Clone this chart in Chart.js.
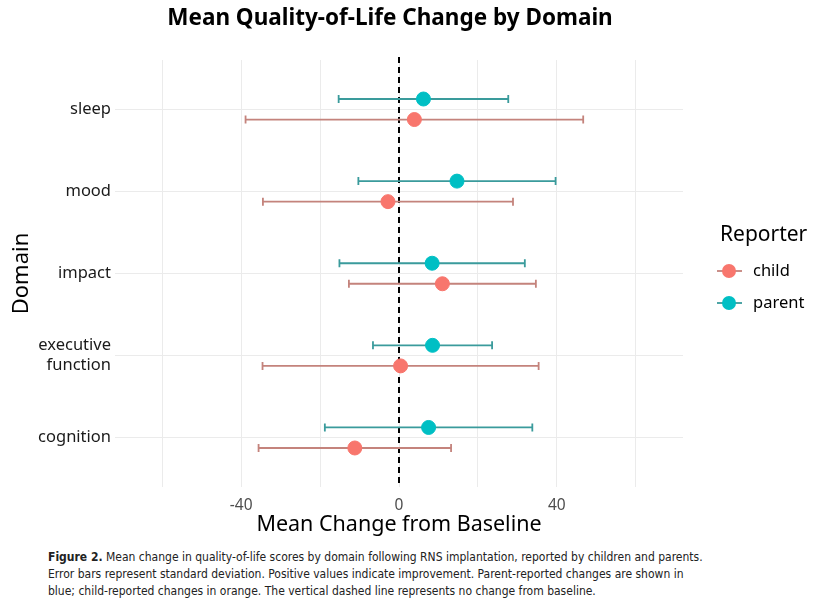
<!DOCTYPE html>
<html>
<head>
<meta charset="utf-8">
<script src="https://cdn.jsdelivr.net/npm/chart.js@4"></script>
<style>
  body { margin: 0; background: #fff; }
  #wrap { width: 822px; height: 540px; position: relative; }
  .caption {
    margin: 9px 0 0 48px;
    font-family: "Liberation Sans Narrow", "DejaVu Sans Condensed", "Roboto", sans-serif;
    font-size: 12px;
    line-height: 17px;
    color: #222;
  }
</style>
</head>
<body>
<div id="wrap"><canvas id="myChart" width="822" height="540"></canvas></div>
<div class="caption">
  <b>Figure 2.</b> Mean change in quality-of-life scores by domain following RNS implantation, reported by children and parents.<br>
  Error bars represent standard deviation. Positive values indicate improvement. Parent-reported changes are shown in<br>
  blue; child-reported changes in orange. The vertical dashed line represents no change from baseline.
</div>
<script>
// data (top to bottom)
var domains = ['sleep', 'mood', 'impact', 'executive function', 'cognition'];
var domainLabels = [['sleep'], ['mood'], ['impact'], ['executive', 'function'], ['cognition']];
var parentMean = [6.2, 14.7, 8.4, 8.5, 7.5];
var parentSd = [21.5, 25.0, 23.5, 15.1, 26.3];
var childMean = [3.9, -2.8, 11.0, 0.4, -11.2];
var childSd = [42.8, 31.7, 23.7, 35.0, 24.4];
var xGrid = [-60, -40, -20, 0, 20, 40, 60];
var xLabels = [-40, 0, 40];
var baseline = 0;
var dodge = 0.125;

var fontFam = '"Noto Sans", sans-serif';

// ggplot style: category 1 at bottom, so sleep gets the highest value
function catPos(i) {
    return domains.length - i;
}

function makePoints(means, sds, offset) {
    var pts = [];
    means.forEach((m, i) => {
        pts.push({ x: m, y: catPos(i) + offset, sd: sds[i] });
    });
    return pts;
}

// error bars drawn through the scales
const errorBars = {
    id: 'errorBars',
    beforeDatasetsDraw(chart) {
        const ctx = chart.ctx;
        const xs = chart.scales.x, ys = chart.scales.y;
        chart.data.datasets.forEach((ds) => {
            ctx.save();
            ctx.strokeStyle = ds.barColor;
            ctx.lineWidth = 1.8;
            ds.data.forEach((p) => {
                let x1 = xs.getPixelForValue(p.x - p.sd);
                let x2 = xs.getPixelForValue(p.x + p.sd);
                let y = ys.getPixelForValue(p.y);
                ctx.beginPath();
                ctx.moveTo(x1, y); ctx.lineTo(x2, y);
                ctx.moveTo(x1, y - 4); ctx.lineTo(x1, y + 4);
                ctx.moveTo(x2, y - 4); ctx.lineTo(x2, y + 4);
                ctx.stroke();
            });
            ctx.restore();
        });
    }
};

// dashed reference line at zero, title and legend
const decorations = {
    id: 'decorations',
    beforeDatasetsDraw(chart) {
        const ctx = chart.ctx;
        const xs = chart.scales.x;
        const area = chart.chartArea;
        let x0 = xs.getPixelForValue(baseline);
        ctx.save();
        ctx.strokeStyle = '#000';
        ctx.lineWidth = 2;
        ctx.setLineDash([6, 4]);
        ctx.beginPath();
        ctx.moveTo(x0, area.top - 3);
        ctx.lineTo(x0, area.bottom);
        ctx.stroke();
        ctx.restore();
    },
    afterDraw(chart) {
        const ctx = chart.ctx;
        ctx.save();
        ctx.fillStyle = '#000';
        ctx.font = 'bold 22.5px ' + fontFam;
        ctx.textAlign = 'center';
        ctx.textBaseline = 'middle';
        ctx.fillText('Mean Quality-of-Life Change by Domain', 390, 19);

        // legend
        ctx.textAlign = 'left';
        ctx.font = '21px ' + fontFam;
        ctx.fillText('Reporter', 720, 235);
        ctx.font = '16.5px ' + fontFam;
        let order = [1, 0];
        order.forEach((di, k) => {
            let ds = chart.data.datasets[di];
            let y = 271 + k * 32;
            ctx.strokeStyle = ds.barColor;
            ctx.lineWidth = 1.8;
            ctx.beginPath();
            ctx.moveTo(717, y); ctx.lineTo(742, y);
            ctx.stroke();
            ctx.fillStyle = ds.backgroundColor;
            ctx.beginPath();
            ctx.arc(729, y, 7, 0, Math.PI * 2);
            ctx.fill();
            ctx.fillStyle = '#000';
            ctx.fillText(ds.label, 753, y);
        });
        ctx.restore();
    }
};

const data = {
    datasets: [{
        label: 'parent',
        data: makePoints(parentMean, parentSd, dodge),
        backgroundColor: '#00BFC4',
        borderColor: '#00BFC4',
        barColor: '#3a9b9c',
        pointRadius: 7,
        pointHoverRadius: 7
    }, {
        label: 'child',
        data: makePoints(childMean, childSd, -dodge),
        backgroundColor: '#F8766D',
        borderColor: '#F8766D',
        barColor: '#c4837c',
        pointRadius: 7,
        pointHoverRadius: 7
    }]
};

const config = {
    type: 'scatter',
    data: data,
    plugins: [decorations, errorBars],
    options: {
        responsive: false,
        animation: false,
        layout: { padding: { top: 60, right: 139, left: 0, bottom: 0 } },
        plugins: {
            legend: { display: false },
            tooltip: { enabled: false }
        },
        scales: {
            x: {
                type: 'linear',
                min: -72,
                max: 72,
                afterFit: (s) => { s.height = 53; },
                afterBuildTicks: (s) => { s.ticks = xGrid.map(v => ({ value: v })); },
                border: { display: false },
                grid: { color: '#ebebeb', lineWidth: 1, drawTicks: false },
                ticks: {
                    padding: 9,
                    color: '#4d4d4d',
                    font: { family: fontFam, size: 15.5 },
                    callback: (v) => xLabels.includes(v) ? String(v) : ''
                },
                title: {
                    display: true,
                    text: 'Mean Change from Baseline',
                    color: '#000',
                    font: { family: fontFam, size: 21.5 },
                    padding: { top: 0, bottom: 2 }
                }
            },
            y: {
                type: 'linear',
                min: 0.4,
                max: domains.length + 0.6,
                afterFit: (s) => { s.width = 115; },
                afterBuildTicks: (s) => { s.ticks = domains.map((d, i) => ({ value: catPos(i) })); },
                border: { display: false },
                grid: { color: '#ebebeb', lineWidth: 1, drawTicks: false },
                ticks: {
                    padding: 4,
                    color: '#1a1a1a',
                    font: { family: fontFam, size: 16.5 },
                    callback: (v) => domainLabels[domains.length - v]
                },
                title: {
                    display: true,
                    text: 'Domain',
                    color: '#000',
                    font: { family: fontFam, size: 22 },
                    padding: { top: 9, bottom: 0 }
                }
            }
        }
    }
};

var myChart = new Chart(document.getElementById('myChart'), config);
</script>
</body>
</html>
